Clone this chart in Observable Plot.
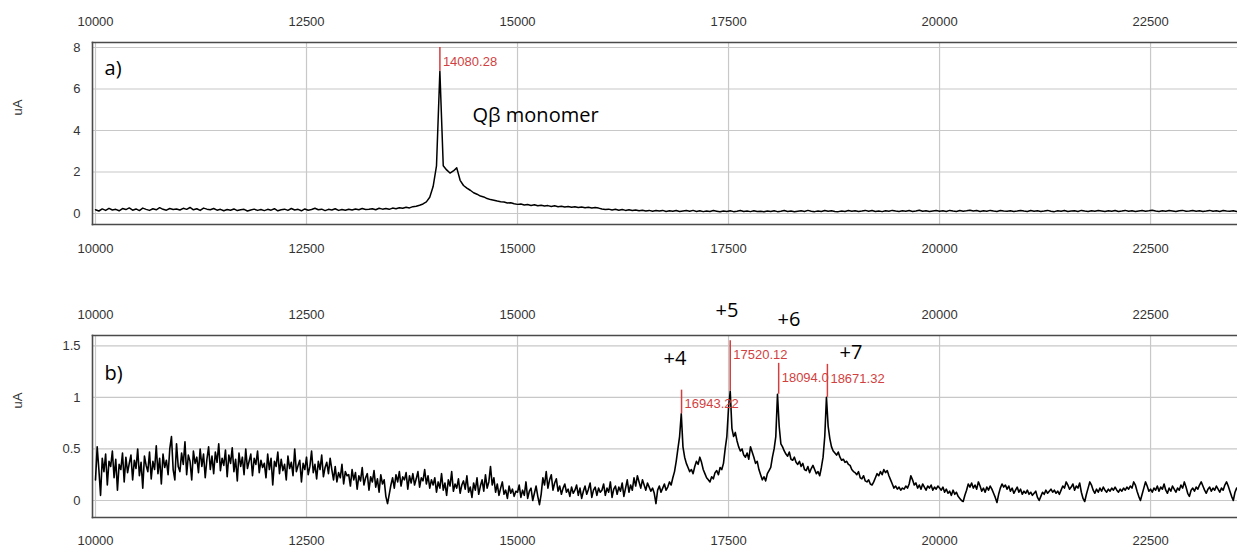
<!DOCTYPE html>
<html><head><meta charset="utf-8">
<script src="https://cdn.jsdelivr.net/npm/d3@7"></script>
<script src="https://cdn.jsdelivr.net/npm/@observablehq/plot@0.6"></script>
<style>
body{margin:0;background:#fff;}
#chart{position:relative;width:1237px;height:548px;}
#chart svg{display:block;overflow:visible;}
</style></head><body><div id="chart"></div>
<script>
// ---- axis ticks ----
const massTicks = [10000, 12500, 15000, 17500, 20000, 22500];
// in panel b the "+5" annotation hides the top 17500 label
const massTicksTopB = [10000, 12500, 15000, 20000, 22500];
const yTicksA = [0, 2, 4, 6, 8];
const yTicksB = [0, 0.5, 1, 1.5];
const yTickLabelsB = ["0", "0.5", "1", "1.5"];

// ---- panel a: deconvoluted spectrum, sampled every 40 Da from 10000 ----
const massStartA = 10000, massStepA = 40;
const intensityA = [
0.18,0.12,0.22,0.15,0.25,0.17,0.2,0.13,0.24,0.19,0.27,0.16,0.22,0.14,0.26,0.2,0.15,0.23,0.18,0.28,0.2,0.16,0.24,0.19,0.22,
0.17,0.25,0.2,0.29,0.18,0.23,0.15,0.26,0.21,0.18,0.24,0.16,0.2,0.13,0.19,0.16,0.22,0.14,0.18,0.2,0.12,0.17,0.21,0.15,0.19,
0.14,0.2,0.16,0.23,0.13,0.18,0.21,0.15,0.24,0.17,0.2,0.13,0.22,0.16,0.19,0.25,0.18,0.21,0.14,0.2,0.17,0.23,0.15,0.19,0.16,
0.2,0.17,0.22,0.18,0.24,0.19,0.2,0.23,0.18,0.25,0.21,0.24,0.2,0.26,0.23,0.28,0.25,0.3,0.27,0.33,0.35,0.4,0.46,0.56,0.78,
1.3,2.3,6.85,2.3,2.1,1.95,2.05,2.2,1.6,1.35,1.22,1.12,1.0,0.93,0.84,0.8,0.72,0.67,0.64,0.6,0.57,0.55,0.51,0.52,0.47,
0.44,0.46,0.41,0.43,0.39,0.42,0.37,0.4,0.36,0.38,0.34,0.37,0.33,0.35,0.31,0.34,0.3,0.33,0.29,0.31,0.28,0.3,0.27,0.29,0.26,
0.22,0.19,0.21,0.17,0.2,0.16,0.19,0.15,0.18,0.14,0.17,0.13,0.16,0.12,0.15,0.11,0.14,0.12,0.15,0.1,0.13,0.11,0.14,0.1,0.12,
0.14,0.11,0.15,0.1,0.13,0.09,0.12,0.1,0.14,0.11,0.08,0.12,0.1,0.13,0.09,0.11,0.14,0.1,0.12,0.09,0.13,0.1,0.11,0.08,0.12,
0.1,0.13,0.09,0.11,0.14,0.1,0.12,0.08,0.11,0.13,0.1,0.15,0.11,0.09,0.12,0.1,0.14,0.11,0.13,0.1,0.09,0.12,0.1,0.14,0.11,
0.13,0.1,0.12,0.15,0.11,0.14,0.1,0.12,0.09,0.13,0.11,0.15,0.12,0.1,0.13,0.11,0.14,0.1,0.12,0.16,0.11,0.13,0.1,0.12,0.14,
0.11,0.13,0.1,0.15,0.12,0.1,0.14,0.11,0.13,0.16,0.12,0.14,0.1,0.13,0.11,0.15,0.12,0.1,0.14,0.12,0.11,0.13,0.1,0.12,0.15,
0.12,0.1,0.14,0.11,0.13,0.1,0.12,0.15,0.11,0.09,0.13,0.11,0.14,0.1,0.12,0.13,0.1,0.15,0.12,0.1,0.13,0.11,0.14,0.12,0.1,
0.13,0.11,0.14,0.1,0.12,0.15,0.11,0.13,0.1,0.12,0.14,0.11,0.13,0.16,0.12,0.1,0.13,0.11,0.14,0.12,0.1,0.13,0.15,0.11,0.12,
0.14,0.11,0.13,0.1,0.12,0.15,0.11,0.13,0.1,0.14,0.12,0.11,0.13,0.1,0.12,0.14
];

// ---- panel b: sampled every 20 Da from 10000 ----
const massStartB = 10000, massStepB = 20;
const intensityB = [
0.2,0.52,0.3,0.05,0.41,0.28,0.45,0.15,0.38,0.33,0.48,0.22,0.4,0.1,0.35,0.3,0.46,0.18,0.42,0.27,0.36,0.44,0.2,0.39,0.31,0.5,0.24,0.37,0.12,0.43,0.34,0.28,0.47,0.21,0.38,0.3,0.53,0.26,0.41,0.16,0.45,0.32,0.39,0.25,0.5,0.62,0.3,0.2,0.55,0.33,
0.28,0.46,0.35,0.57,0.25,0.44,0.38,0.2,0.48,0.36,0.42,0.27,0.5,0.33,0.45,0.22,0.4,0.52,0.3,0.43,0.26,0.47,0.37,0.55,0.29,0.41,0.34,0.49,0.23,0.44,0.36,0.51,0.28,0.4,0.19,0.46,0.33,0.42,0.25,0.5,0.31,0.38,0.45,0.24,0.41,0.35,0.48,0.27,0.39,0.32,
0.36,0.22,0.45,0.3,0.41,0.15,0.38,0.33,0.47,0.26,0.4,0.29,0.35,0.2,0.43,0.31,0.37,0.24,0.5,0.28,0.34,0.39,0.18,0.36,0.3,0.42,0.25,0.33,0.48,0.27,0.35,0.21,0.38,0.3,0.44,0.23,0.32,0.37,0.26,0.41,0.3,0.2,0.33,0.18,0.27,0.22,0.35,0.16,0.28,0.24,
0.25,0.14,0.3,0.2,0.27,0.11,0.24,0.19,0.32,0.15,0.22,0.26,0.1,0.23,0.18,0.29,0.13,0.21,0.08,0.25,0.16,0.2,0.04,-0.03,0.06,0.15,0.22,0.12,0.25,0.18,0.28,0.14,0.23,0.2,0.27,0.11,0.24,0.17,0.26,0.15,0.21,0.28,0.13,0.22,0.19,0.3,0.16,0.24,0.12,0.2,
0.15,0.22,0.08,0.18,0.12,0.26,0.1,0.17,0.05,0.2,0.14,0.28,0.09,0.16,0.12,0.21,0.07,0.15,0.19,0.11,0.24,0.08,0.13,0.03,0.17,0.1,0.22,0.06,0.14,0.2,0.09,0.25,0.12,0.18,0.33,0.15,0.22,0.08,0.16,0.05,0.12,0.18,0.06,0.1,0.02,0.14,0.07,0.11,0.04,0.09,
0.08,0.15,0.03,0.1,0.05,0.18,0.02,0.09,0.12,0.0,0.07,0.14,0.04,-0.04,0.06,0.22,0.15,0.28,0.12,0.2,0.25,0.1,0.17,0.21,0.09,0.14,0.06,0.12,0.16,0.08,0.11,0.04,0.13,0.07,0.1,0.15,0.05,0.12,0.02,0.09,0.14,0.06,0.11,0.17,0.03,0.1,0.13,0.05,0.12,0.08,
0.1,0.16,0.05,0.12,0.08,0.18,0.03,0.11,0.14,0.06,0.13,0.09,0.17,0.04,0.12,0.2,0.08,0.15,0.1,0.22,0.14,0.24,0.18,0.12,0.2,0.15,0.1,0.17,0.13,0.09,0.12,0.07,-0.03,0.1,0.14,0.08,0.12,0.16,0.1,0.13,0.18,0.15,0.22,0.28,0.38,0.5,0.62,0.84,0.52,0.42,
0.36,0.32,0.28,0.3,0.26,0.33,0.38,0.35,0.42,0.37,0.3,0.26,0.22,0.2,0.18,0.23,0.21,0.27,0.29,0.25,0.32,0.3,0.36,0.5,0.62,0.9,1.06,0.7,0.62,0.66,0.58,0.52,0.48,0.5,0.44,0.42,0.46,0.4,0.52,0.47,0.42,0.36,0.38,0.3,0.25,0.2,0.23,0.19,0.26,0.29,
0.32,0.42,0.5,0.62,1.03,0.72,0.55,0.52,0.48,0.45,0.43,0.47,0.4,0.39,0.42,0.37,0.35,0.38,0.33,0.36,0.3,0.29,0.33,0.27,0.31,0.34,0.3,0.26,0.28,0.24,0.32,0.42,0.62,1.0,0.72,0.6,0.52,0.48,0.46,0.44,0.47,0.42,0.39,0.4,0.37,0.38,0.35,0.34,0.3,0.28,
0.27,0.25,0.28,0.22,0.21,0.24,0.19,0.18,0.2,0.16,0.15,0.18,0.22,0.26,0.24,0.28,0.25,0.3,0.27,0.29,0.24,0.2,0.16,0.12,0.14,0.11,0.13,0.1,0.12,0.11,0.14,0.12,0.16,0.24,0.2,0.15,0.17,0.12,0.15,0.11,0.16,0.13,0.1,0.14,0.12,0.15,0.1,0.13,0.11,0.14,
0.12,0.1,0.13,0.08,0.11,0.07,0.09,0.05,0.1,0.06,0.08,0.04,0.02,0.0,-0.01,0.05,0.1,0.16,0.13,0.17,0.12,0.15,0.11,0.18,0.14,0.09,0.12,0.08,0.13,0.1,0.14,0.11,0.07,0.03,-0.02,0.06,0.12,0.16,0.13,0.15,0.11,0.14,0.09,0.12,0.07,0.1,0.13,0.08,0.11,0.06,
0.09,0.07,0.1,0.06,0.08,0.05,0.07,0.09,0.03,0.0,0.04,0.08,0.06,0.1,0.07,0.09,0.11,0.08,0.1,0.07,0.09,0.06,0.1,0.14,0.12,0.18,0.15,0.11,0.13,0.16,0.1,0.14,0.12,0.17,0.08,0.02,-0.01,0.06,0.12,0.18,0.15,0.1,0.07,0.11,0.08,0.12,0.09,0.13,0.1,0.08,
0.11,0.09,0.12,0.1,0.13,0.1,0.08,0.11,0.09,0.12,0.1,0.13,0.11,0.14,0.12,0.18,0.15,0.09,0.04,0.0,0.06,0.12,0.18,0.14,0.09,0.11,0.08,0.12,0.1,0.14,0.09,0.13,0.11,0.16,0.1,0.07,0.12,0.09,0.14,0.11,0.08,0.12,0.1,0.15,0.12,0.18,0.13,0.07,0.04,0.1,
0.12,0.09,0.13,0.11,0.15,0.18,0.14,0.1,0.07,0.11,0.13,0.09,0.12,0.1,0.14,0.11,0.08,0.12,0.1,0.15,0.18,0.14,0.09,0.04,0.0,0.08,0.12
];

// ---- labelled peaks ----
const peakMassA = [14080.28];
const peakLabelA = ["14080.28"];
const peakBaseA = [6.85];
const peakTopA = [8.0];

const peakMassB = [16943.22, 17520.12, 18094.0, 18671.32];
const peakLabelB = ["16943.22", "17520.12", "18094.0", "18671.32"];
const peakBaseB = [0.84, 1.06, 1.03, 1.0];
const peakTopB = [1.07, 1.55, 1.33, 1.32];

const chargeLabels = ["+4", "+5", "+6", "+7"];
const chargeMass = [16730, 17346, 18080, 18815];
const chargeLevel = [1.377, 1.842, 1.755, 1.435];

// ---- build tables ----
const specA = intensityA.map((v, i) => ({mass: massStartA + i * massStepA, value: v}));
const specB = intensityB.map((v, i) => ({mass: massStartB + i * massStepB, value: v}));
const peaksA = peakMassA.map((m, i) => ({mass: m, label: peakLabelA[i], base: peakBaseA[i], top: peakTopA[i]}));
const peaksB = peakMassB.map((m, i) => ({mass: m, label: peakLabelB[i], base: peakBaseB[i], top: peakTopB[i]}));
const charges = chargeLabels.map((t, i) => ({text: t, mass: chargeMass[i], level: chargeLevel[i]}));

const RED = "#d23f3f";
const GRID = "#c8c8c8";
const FRAME = "#4a4a4a";
const TICK = "#333";
const xDomain = [9964.5, 23530];
const annoFont = "'Open Sans', 'Liberation Sans', sans-serif";

function panel({spec, peaks, yDomain, yTicks, yFmt, topTicks, height, marginTop, marginBottom, padTop, padBottom, lineWidth, extra}) {
  return Plot.plot({
    width: 1237, height, marginLeft: 92, marginRight: 0, marginTop, marginBottom,
    style: {fontFamily: "'Liberation Sans', Arial, sans-serif", fontSize: "13px", background: "white", overflow: "visible"},
    x: {domain: xDomain},
    y: {domain: yDomain},
    marks: [
      Plot.gridX(massTicks, {stroke: GRID, strokeOpacity: 1, strokeWidth: 1.2}),
      Plot.gridY(yTicks, {stroke: GRID, strokeOpacity: 1, strokeWidth: 1.2}),
      Plot.frame({anchor: "top", stroke: FRAME, strokeWidth: 1.6}),
      Plot.frame({anchor: "bottom", stroke: FRAME, strokeWidth: 1.6}),
      Plot.frame({anchor: "left", stroke: FRAME, strokeWidth: 1.6}),
      Plot.axisX(topTicks, {anchor: "top", tickSize: 0, tickPadding: padTop, label: null, tickFormat: d => String(d), fill: TICK, fontSize: 13}),
      Plot.axisX(massTicks, {anchor: "bottom", tickSize: 0, tickPadding: padBottom, label: null, tickFormat: d => String(d), fill: TICK, fontSize: 13}),
      Plot.axisY(yTicks, {anchor: "left", tickSize: 0, tickPadding: 12, label: null, tickFormat: yFmt, fill: TICK, fontSize: 13}),
      Plot.text(["uA"], {frameAnchor: "left", dx: -75, dy: -18, rotate: -90, fill: TICK, fontSize: 13}),
      Plot.line(spec, {x: "mass", y: "value", stroke: "black", strokeWidth: lineWidth}),
      Plot.ruleX(peaks, {x: "mass", y1: "base", y2: "top", stroke: RED, strokeWidth: 1.5}),
      Plot.text(peaks, {x: "mass", y: "top", text: "label", textAnchor: "start", lineAnchor: "middle", dx: 3, dy: 14, fill: RED, fontSize: 13}),
      ...extra
    ]
  });
}

const svgA = panel({
  spec: specA, peaks: peaksA, yDomain: [-0.53, 8.24], yTicks: yTicksA, yFmt: d => String(d), topTicks: massTicks,
  height: 274, marginTop: 42, marginBottom: 50, padTop: 17, padBottom: 19, lineWidth: 1.5,
  extra: [
    Plot.text(["a)"], {x: 10107, y: 6.99, textAnchor: "start", lineAnchor: "middle", fontSize: 20, fontFamily: annoFont, fill: "black"}),
    Plot.text(["Qβ monomer"], {x: 14467, y: 4.72, textAnchor: "start", lineAnchor: "middle", fontSize: 20, fontFamily: annoFont, fill: "black"})
  ]
});

const svgB = panel({
  spec: specB, peaks: peaksB, yDomain: [-0.165, 1.60], yTicks: yTicksB, yFmt: d => yTickLabelsB[yTicksB.indexOf(d)], topTicks: massTicksTopB,
  height: 274, marginTop: 61, marginBottom: 31, padTop: 17, padBottom: 18, lineWidth: 1.6,
  extra: [
    Plot.text(["b)"], {x: 10107, y: 1.23, textAnchor: "start", lineAnchor: "middle", fontSize: 20, fontFamily: annoFont, fill: "black"}),
    Plot.text(charges, {x: "mass", y: "level", text: "text", textAnchor: "start", lineAnchor: "middle", fontSize: 20, fontFamily: annoFont, fill: "black"})
  ]
});

const root = document.getElementById("chart");
root.appendChild(svgA);
root.appendChild(svgB);
</script>
</body></html>
